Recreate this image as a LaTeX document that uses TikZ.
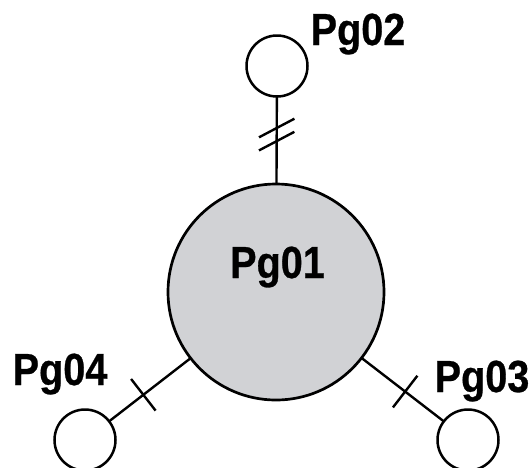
\documentclass[tikz,border=0pt]{standalone}
\usepackage{fontspec}
\newfontfamily\pgfont[FakeStretch=0.88,FakeBold=0.6]{Liberation Sans}
\usepackage{tikz}
\usetikzlibrary{positioning,calc}
\definecolor{hubgray}{RGB}{209,210,213}

\begin{document}
\begin{tikzpicture}[
  x=1pt, y=-1pt,
  hub/.style={circle, draw=black, fill=hubgray, line width=2.7pt,
    minimum size=216pt, inner sep=0pt, outer sep=0pt},
  leaf/.style={circle, draw=black, fill=white, line width=2.5pt,
    minimum size=61pt, inner sep=0pt, outer sep=0pt},
  link/.style={line width=2.4pt},
  tick/.style={line width=2.4pt},
  pglabel/.style={font=\pgfont\bfseries\fontsize{45}{48}\selectfont,
    inner sep=0pt, anchor=base}
]
% Canvas of 532 by 467 units, y measured downward as in the reference.
\path[use as bounding box] (0,0) rectangle (532,467);

% Central group and its three small neighbours.
\node[hub] (pg01) at (276,292) {};
\node[leaf] (pg02) at (277,66) {};
\node[leaf] (pg04) at (85,440) {};
\node[leaf] (pg03) at (468,440) {};

% Connectors, with coordinates where the tick marks sit.
\draw[link] (pg02) -- coordinate[pos=0.36] (t2a) coordinate[pos=0.51] (t2b) (pg01);
\draw[link] (pg04) -- coordinate[pos=0.42] (t4) (pg01);
\draw[link] (pg03) -- coordinate[pos=0.47] (t3) (pg01);

% Double slanted tick on the top link, single crossing ticks below.
\foreach \t in {t2a,t2b}
  \draw[tick] ($(\t)!20pt!118:(pg01)$) -- ($(\t)!20pt!-62:(pg01)$);
\draw[tick] ($(t4)!20pt!90:(pg01)$) -- ($(t4)!20pt!-90:(pg01)$);
\draw[tick] ($(t3)!20pt!90:(pg01)$) -- ($(t3)!20pt!-90:(pg01)$);

% Labels.
\node[pglabel] (lbl01) at (277.5,278) {Pg01};
\node[pglabel] (lbl02) at (358,45) {Pg02};
\node[pglabel] (lbl04) at (60,385) {Pg04};
\node[pglabel] (lbl03) at (482,392) {Pg03};
\end{tikzpicture}
\end{document}
